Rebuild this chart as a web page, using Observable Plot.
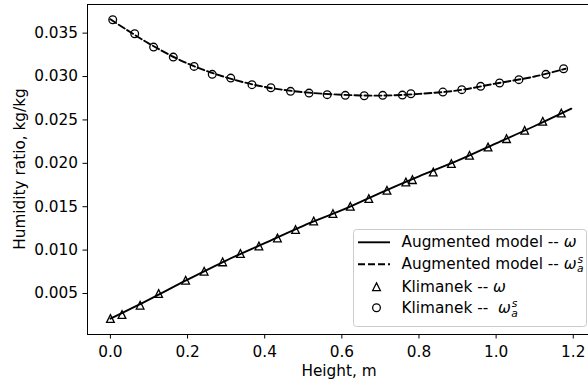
<!DOCTYPE html>
<html><head><meta charset="utf-8">
<script src="https://cdn.jsdelivr.net/npm/d3@7"></script>
<script src="https://cdn.jsdelivr.net/npm/@observablehq/plot@0.6"></script>
<style>
html,body{margin:0;padding:0;background:#fff;}
#chart svg{display:block;}
</style>
</head><body><div id="chart"></div>
<script>
// ---- data ----
const xTicks = [0, 0.2, 0.4, 0.6, 0.8, 1.0, 1.2];
const yTicks = [0.005, 0.010, 0.015, 0.020, 0.025, 0.030, 0.035];

// Augmented model -- omega (solid line)
const modelHeight = [0, 0.1, 0.2, 0.3, 0.4, 0.5, 0.6, 0.7, 0.8, 0.9, 1.0, 1.1, 1.195];
const modelOmega  = [0.0021, 0.0043, 0.0066, 0.0088, 0.0108, 0.0128, 0.0146, 0.0166, 0.0185, 0.0203, 0.0223, 0.0243, 0.0263];

// Augmented model -- omega_a^s (dashed line)
const modelSatHeight = [0, 0.1, 0.2, 0.3, 0.4, 0.5, 0.6, 0.7, 0.8, 0.9, 1.0, 1.1, 1.18];
const modelSatOmega  = [0.0366, 0.0338, 0.0315, 0.0299, 0.0288, 0.0282, 0.0279, 0.0278, 0.0280, 0.0284, 0.0292, 0.0300, 0.0309];

// Klimanek -- omega (triangles)
const klimHeight = [0.000, 0.030, 0.077, 0.125, 0.195, 0.243, 0.291, 0.337, 0.385, 0.433, 0.480, 0.527, 0.577, 0.622, 0.670, 0.717, 0.766, 0.783, 0.837, 0.884, 0.931, 0.979, 1.027, 1.074, 1.121, 1.169];
const klimOmega  = [0.00212, 0.00258, 0.00365, 0.00500, 0.00653, 0.00757, 0.00864, 0.00961, 0.01048, 0.01140, 0.01237, 0.01336, 0.01421, 0.01505, 0.01594, 0.01689, 0.01785, 0.01812, 0.01900, 0.01997, 0.02092, 0.02188, 0.02284, 0.02380, 0.02484, 0.02579];

// Klimanek -- omega_a^s (circles)
const klimSatHeight = [0.006, 0.063, 0.112, 0.163, 0.217, 0.264, 0.312, 0.367, 0.416, 0.467, 0.515, 0.562, 0.609, 0.658, 0.706, 0.757, 0.779, 0.862, 0.911, 0.960, 1.009, 1.059, 1.129, 1.175];
const klimSatOmega  = [0.03654, 0.03493, 0.03339, 0.03224, 0.03117, 0.03025, 0.02982, 0.02906, 0.02871, 0.02829, 0.02809, 0.02791, 0.02783, 0.02779, 0.02783, 0.02786, 0.02802, 0.02821, 0.02849, 0.02887, 0.02926, 0.02964, 0.03025, 0.03090];

const xLabel = "Height, m";
const yLabel = "Humidity ratio, kg/kg";
const legendLabels = ["Augmented model -- ", "Augmented model -- ", "Klimanek -- ", "Klimanek --  "];
const legendSub = [false, true, false, true];

// ---- chart ----
const FONT = "DejaVu Sans";
const FS = 15.3;
const xDomain = [-0.0594, 1.2395];
const yDomain = [0.000275, 0.0383];

const mplTriangle = {
  draw(context, size) {
    const r = Math.sqrt(size / Math.PI);
    context.moveTo(0, -r);
    context.lineTo(r, r);
    context.lineTo(-r, r);
    context.closePath();
  }
};

const plot = Plot.plot({
  width: 588, height: 386,
  marginLeft: 87, marginRight: 0, marginTop: 4, marginBottom: 52,
  style: {fontFamily: FONT, fontSize: FS + "px", background: "white", color: "black", overflow: "visible"},
  x: {domain: xDomain},
  y: {domain: yDomain},
  marks: [
    Plot.axisX(xTicks, {tickSize: 4.5, tickPadding: 7, tickFormat: ".1f", label: null, stroke: "black", strokeWidth: 1}),
    Plot.axisY(yTicks, {tickSize: 4.5, tickPadding: 5, tickFormat: ".3f", label: null, stroke: "black", strokeWidth: 1}),
    Plot.ruleX([xDomain[0]], {stroke: "black", strokeWidth: 1}),
    Plot.ruleY([yDomain[0], yDomain[1]], {stroke: "black", strokeWidth: 1}),
    Plot.line(modelHeight, {x: modelHeight, y: modelOmega, stroke: "black", strokeWidth: 1.9, curve: "catmull-rom"}),
    Plot.line(modelSatHeight, {x: modelSatHeight, y: modelSatOmega, stroke: "black", strokeWidth: 1.9, strokeDasharray: "7,3", curve: "catmull-rom"}),
    Plot.dot(klimHeight, {x: klimHeight, y: klimOmega, symbol: mplTriangle, r: 3.85, stroke: "black", fill: "none", strokeWidth: 1.3}),
    Plot.dot(klimSatHeight, {x: klimSatHeight, y: klimSatOmega, symbol: "circle", r: 3.85, stroke: "black", fill: "none", strokeWidth: 1.3})
  ]
});
document.getElementById("chart").appendChild(plot);

const svg = d3.select(plot);
const g = svg.append("g").attr("font-family", FONT).attr("font-size", FS).attr("fill", "black").attr("text-anchor", "start");

// axis titles
g.append("text").attr("x", 339).attr("y", 376).attr("text-anchor", "middle").text(xLabel);
g.append("text").attr("transform", "translate(25,169) rotate(-90)").attr("text-anchor", "middle").text(yLabel);

// legend
const lg = g.append("g").attr("text-anchor", "start");
lg.append("rect").attr("x", 353.5).attr("y", 229.5).attr("width", 233).attr("height", 97).attr("rx", 3)
  .attr("fill", "white").attr("fill-opacity", 0.8).attr("stroke", "#cccccc").attr("stroke-width", 1);
const baselines = [246.7, 268.7, 291.7, 313.3];
const handleY = [242.3, 264.3, 286.7, 307.8];
lg.append("line").attr("x1", 358).attr("x2", 390).attr("y1", handleY[0]).attr("y2", handleY[0]).attr("stroke", "black").attr("stroke-width", 1.9);
lg.append("line").attr("x1", 358).attr("x2", 390).attr("y1", handleY[1]).attr("y2", handleY[1]).attr("stroke", "black").attr("stroke-width", 1.9).attr("stroke-dasharray", "7,3");
lg.append("path").attr("d", "M0,-3.85L3.85,3.85L-3.85,3.85Z").attr("transform", `translate(376.5,${handleY[2]})`).attr("fill", "none").attr("stroke", "black").attr("stroke-width", 1.3);
lg.append("circle").attr("cx", 376.5).attr("cy", handleY[3]).attr("r", 3.85).attr("fill", "none").attr("stroke", "black").attr("stroke-width", 1.3);

legendLabels.forEach((lab, i) => {
  const t = lg.append("text").attr("x", 401.5).attr("y", baselines[i]).attr("text-anchor", "start").style("white-space", "pre");
  t.append("tspan").text(lab);
  t.append("tspan").attr("font-style", "italic").text("\u03C9");
  if (legendSub[i]) {
    const end = 401.5 + t.node().getComputedTextLength();
    t.append("tspan").attr("x", end + 1).attr("y", baselines[i] - 0.38 * FS).attr("font-size", FS * 0.7).attr("font-style", "italic").text("s");
    t.append("tspan").attr("x", end + 0.5).attr("y", baselines[i] + 0.24 * FS).attr("font-size", FS * 0.7).attr("font-style", "italic").text("a");
  }
});
</script>
</body></html>
